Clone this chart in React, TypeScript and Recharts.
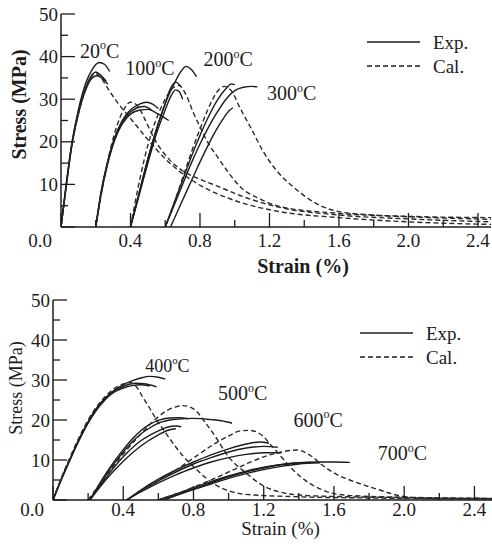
import { Legend, Line, LineChart, ReferenceDot, XAxis, YAxis } from 'recharts';

type Pt = [number, number];

const INK = '#1c1c1c';
const SERIF = '"Liberation Serif", "Times New Roman", serif';

// strain (%) ticks: labelled every 0.4, minor every 0.2
const strainMajor = [0, 0.4, 0.8, 1.2, 1.6, 2.0, 2.4];
const strainMinor = [0.2, 0.6, 1.0, 1.4, 1.8, 2.2];
// stress (MPa) ticks: labelled every 10, minor every 5
const stressMajor = [0, 10, 20, 30, 40, 50];
const stressMinor = [5, 15, 25, 35, 45];

// ---- upper panel: 20-300 °C ----
const exp20a: Pt[] = [[0, 0], [0.03, 10], [0.06, 19], [0.1, 27.5], [0.14, 33.5], [0.18, 37], [0.22, 38.6], [0.25, 38.2], [0.28, 36.5]];
const exp20b: Pt[] = [[0, 0], [0.03, 10], [0.06, 19], [0.1, 27], [0.14, 32.5], [0.18, 35.8], [0.2, 36.4], [0.23, 35.6], [0.26, 34.2]];
const exp20c: Pt[] = [[0, 0], [0.03, 9.5], [0.06, 18.5], [0.1, 26.5], [0.14, 32], [0.18, 35], [0.21, 35.5], [0.24, 34.8], [0.27, 33.5]];
const cal20: Pt[] = [[0, 0], [0.03, 9.5], [0.06, 18.5], [0.1, 26.5], [0.14, 32], [0.18, 35.5], [0.2, 36], [0.23, 35], [0.27, 32.5], [0.32, 29.5], [0.4, 25.5], [0.5, 20.5], [0.6, 16], [0.7, 12.5], [0.8, 9.8], [0.9, 7.8], [1.03, 5.8], [1.26, 3.6], [1.6, 2.2], [2.0, 1.2], [2.48, 0.6]];

const exp100a: Pt[] = [[0.2, 0], [0.23, 8], [0.27, 15.5], [0.31, 21], [0.35, 24.8], [0.4, 27.5], [0.45, 28.8], [0.49, 29.3], [0.53, 28.8], [0.56, 27.8]];
const exp100b: Pt[] = [[0.2, 0], [0.23, 7.5], [0.27, 15], [0.31, 20.5], [0.35, 24], [0.4, 26.5], [0.45, 27.4], [0.5, 27.6], [0.56, 26.5], [0.62, 25]];
const exp100c: Pt[] = [[0.2, 0], [0.23, 8], [0.27, 15.5], [0.31, 21], [0.35, 24.5], [0.4, 27], [0.44, 28], [0.48, 28.3], [0.52, 27.5]];
const cal100: Pt[] = [[0.2, 0], [0.24, 9.5], [0.28, 17.5], [0.32, 23.5], [0.36, 27.5], [0.4, 29.3], [0.44, 28.5], [0.48, 25.5], [0.54, 20.5], [0.62, 16], [0.7, 13.2], [0.8, 11.2], [0.9, 9.6], [1.03, 7.4], [1.26, 4.6], [1.6, 2.8], [2.0, 1.9], [2.48, 1.2]];

const exp200a: Pt[] = [[0.4, 0], [0.45, 8], [0.5, 16], [0.55, 23], [0.6, 29], [0.65, 33.5], [0.69, 36.5], [0.72, 37.7], [0.75, 37], [0.78, 35.3]];
const exp200b: Pt[] = [[0.4, 0], [0.45, 8], [0.5, 16], [0.55, 23], [0.6, 29], [0.63, 32.5], [0.66, 34], [0.69, 33]];
const exp200c: Pt[] = [[0.4, 0], [0.45, 7.5], [0.5, 15], [0.55, 22], [0.6, 27.5], [0.63, 30.5], [0.66, 32.2], [0.68, 31.8], [0.7, 30]];
const cal200: Pt[] = [[0.4, 0], [0.44, 8.5], [0.48, 16], [0.52, 22], [0.56, 26.5], [0.6, 30], [0.64, 32.5], [0.68, 33.2], [0.72, 31], [0.76, 27], [0.8, 23.5], [0.85, 19.5], [0.9, 16.5], [0.96, 13], [1.03, 9.5], [1.15, 6.5], [1.26, 4.8], [1.6, 3.2], [2.0, 2.4], [2.48, 1.8]];

const exp300a: Pt[] = [[0.6, 0], [0.65, 5.5], [0.7, 11], [0.75, 16.5], [0.8, 21.5], [0.85, 26], [0.9, 29.8], [0.95, 32.5], [0.98, 33.6], [1.0, 33.4]];
const exp300b: Pt[] = [[0.6, 0], [0.65, 5], [0.7, 10], [0.75, 15], [0.8, 19.5], [0.85, 23.5], [0.9, 27], [0.95, 30], [1.0, 32], [1.05, 32.8], [1.1, 33], [1.13, 32.9]];
const exp300c: Pt[] = [[0.63, 0], [0.68, 4.5], [0.73, 9], [0.78, 13.5], [0.83, 17.8], [0.88, 21.8], [0.93, 25.2], [0.97, 27.4], [0.99, 28]];
const cal300: Pt[] = [[0.6, 0], [0.65, 5.5], [0.7, 11.5], [0.75, 17.5], [0.8, 23], [0.85, 28], [0.9, 31.8], [0.94, 33], [0.98, 32], [1.03, 28], [1.1, 22.7], [1.16, 18], [1.24, 13.3], [1.34, 9.3], [1.47, 5.5], [1.6, 3.6], [1.8, 2.8], [2.0, 2.5], [2.48, 2.2]];

// ---- lower panel: 400-700 °C ----
const exp400a: Pt[] = [[0, 0], [0.05, 5.5], [0.1, 10.5], [0.15, 15.3], [0.2, 19.5], [0.25, 23], [0.3, 25.6], [0.35, 27.5], [0.4, 28.8], [0.45, 29.8], [0.5, 30.5], [0.55, 30.9], [0.6, 30.7], [0.64, 30.2]];
const exp400b: Pt[] = [[0, 0], [0.05, 5.5], [0.1, 10.5], [0.15, 15.3], [0.2, 19.5], [0.25, 23], [0.3, 25.5], [0.35, 27.3], [0.4, 28.4], [0.47, 29.2], [0.53, 29], [0.59, 28.3]];
const exp400c: Pt[] = [[0, 0], [0.05, 5.3], [0.1, 10.3], [0.15, 15], [0.2, 19.2], [0.25, 22.6], [0.3, 25.2], [0.35, 27], [0.4, 28], [0.45, 28.6], [0.5, 28.8], [0.55, 28.5]];
const cal400: Pt[] = [[0, 0], [0.05, 5.8], [0.1, 11], [0.15, 15.8], [0.2, 20], [0.25, 23.4], [0.3, 26], [0.35, 27.9], [0.4, 29], [0.44, 29.3], [0.48, 28], [0.51, 25.8], [0.55, 23], [0.59, 20], [0.63, 17.5], [0.67, 15], [0.74, 11], [0.82, 7.5], [0.91, 4.2], [1.0, 2.3], [1.1, 1.4], [1.4, 0.8], [1.8, 0.5], [2.5, 0.3]];

const exp500a: Pt[] = [[0.21, 0], [0.25, 2.8], [0.3, 6.2], [0.35, 9.2], [0.4, 12], [0.45, 14.5], [0.5, 16.5], [0.55, 18], [0.6, 19.2], [0.7, 20.2], [0.8, 20.4], [0.9, 20.1], [0.96, 19.8], [1.02, 19.2]];
const exp500b: Pt[] = [[0.21, 0], [0.25, 3], [0.3, 6.5], [0.35, 9.7], [0.4, 12.6], [0.45, 15.2], [0.5, 17.3], [0.55, 18.9], [0.6, 19.9], [0.66, 20.5], [0.72, 20.6], [0.77, 20.3]];
const exp500c: Pt[] = [[0.21, 0], [0.3, 5.5], [0.4, 10.8], [0.5, 14.8], [0.6, 17.3], [0.65, 18.2], [0.7, 18.5], [0.73, 18.3]];
const exp500d: Pt[] = [[0.21, 0], [0.3, 5], [0.4, 9.7], [0.5, 13.5], [0.6, 16.3], [0.66, 17.5], [0.7, 17.8]];
const cal500: Pt[] = [[0.2, 0], [0.3, 6], [0.4, 11.5], [0.5, 16.5], [0.55, 18.8], [0.6, 20.8], [0.65, 22.4], [0.7, 23.3], [0.74, 23.6], [0.8, 22.8], [0.87, 19.2], [0.93, 15.5], [1.0, 10.8], [1.1, 6.7], [1.2, 3.5], [1.3, 1.9], [1.45, 1.1], [1.7, 0.8], [2.0, 0.6], [2.5, 0.4]];

const exp600a: Pt[] = [[0.42, 0], [0.5, 2.5], [0.6, 5.2], [0.7, 7.5], [0.8, 9.5], [0.9, 11.3], [1.0, 12.8], [1.1, 14], [1.18, 14.5], [1.23, 14.2]];
const exp600b: Pt[] = [[0.42, 0], [0.5, 2.3], [0.6, 4.8], [0.7, 7], [0.8, 9], [0.9, 10.6], [1.0, 12], [1.1, 13], [1.2, 13.4], [1.28, 13.2]];
const exp600c: Pt[] = [[0.42, 0], [0.5, 2], [0.6, 4.3], [0.7, 6.3], [0.8, 8], [0.9, 9.5], [1.0, 10.6], [1.1, 11.4], [1.2, 11.8], [1.3, 11.8]];
const cal600: Pt[] = [[0.42, 0], [0.5, 2.2], [0.6, 4.8], [0.7, 7.5], [0.8, 10.5], [0.9, 13.5], [1.0, 16], [1.07, 17.3], [1.12, 17.4], [1.18, 16.5], [1.25, 13.3], [1.3, 10.8], [1.35, 8.3], [1.4, 6.2], [1.46, 4.2], [1.52, 2.8], [1.58, 1.8], [1.7, 1.1], [2.0, 0.7], [2.5, 0.4]];

const exp700a: Pt[] = [[0.63, 0], [0.7, 1.2], [0.8, 2.8], [0.9, 4.3], [1.0, 5.8], [1.1, 7], [1.2, 8], [1.3, 8.8], [1.4, 9.3], [1.5, 9.5], [1.6, 9.5], [1.69, 9.4]];
const exp700b: Pt[] = [[0.63, 0], [0.8, 2.6], [0.9, 4], [1.0, 5.4], [1.1, 6.6], [1.2, 7.6], [1.3, 8.4], [1.4, 9], [1.52, 9.3]];
const exp700c: Pt[] = [[0.6, 0], [0.7, 1.5], [0.8, 3.1], [0.9, 4.6], [1.0, 6], [1.1, 7.2], [1.2, 8.2], [1.3, 8.9], [1.4, 9.3], [1.47, 9.4]];
const cal700: Pt[] = [[0.6, 0], [0.7, 1.5], [0.8, 3.2], [0.9, 5], [1.0, 7], [1.1, 9], [1.2, 10.8], [1.3, 12], [1.39, 12.5], [1.46, 11.3], [1.54, 8.5], [1.62, 6.3], [1.69, 5], [1.78, 3.6], [1.86, 2.5], [1.95, 1.3], [2.05, 0.6], [2.2, 0.3], [2.5, 0.2]];

// temperature annotations: [label, strain, stress, font size]
const upperTemps: [string, number, number, number][] = [
  ['20', 0.11, 39.7, 20],
  ['100', 0.37, 35.7, 20],
  ['200', 0.82, 37.8, 20],
  ['300', 1.185, 29.8, 20],
];
const lowerTemps: [string, number, number, number][] = [
  ['400', 0.525, 32, 18],
  ['500', 0.94, 25, 20],
  ['600', 1.37, 18.3, 20],
  ['700', 1.85, 10, 20],
];

type Series = { id: string; pts: Pt[]; cal: boolean };

const upperSeries: Series[] = [
  { id: 'e20a', pts: exp20a, cal: false },
  { id: 'e20b', pts: exp20b, cal: false },
  { id: 'e20c', pts: exp20c, cal: false },
  { id: 'c20', pts: cal20, cal: true },
  { id: 'e100a', pts: exp100a, cal: false },
  { id: 'e100b', pts: exp100b, cal: false },
  { id: 'e100c', pts: exp100c, cal: false },
  { id: 'c100', pts: cal100, cal: true },
  { id: 'e200a', pts: exp200a, cal: false },
  { id: 'e200b', pts: exp200b, cal: false },
  { id: 'e200c', pts: exp200c, cal: false },
  { id: 'c200', pts: cal200, cal: true },
  { id: 'e300a', pts: exp300a, cal: false },
  { id: 'e300b', pts: exp300b, cal: false },
  { id: 'e300c', pts: exp300c, cal: false },
  { id: 'c300', pts: cal300, cal: true },
];

const lowerSeries: Series[] = [
  { id: 'e400a', pts: exp400a, cal: false },
  { id: 'e400b', pts: exp400b, cal: false },
  { id: 'e400c', pts: exp400c, cal: false },
  { id: 'c400', pts: cal400, cal: true },
  { id: 'e500a', pts: exp500a, cal: false },
  { id: 'e500b', pts: exp500b, cal: false },
  { id: 'e500c', pts: exp500c, cal: false },
  { id: 'e500d', pts: exp500d, cal: false },
  { id: 'c500', pts: cal500, cal: true },
  { id: 'e600a', pts: exp600a, cal: false },
  { id: 'e600b', pts: exp600b, cal: false },
  { id: 'e600c', pts: exp600c, cal: false },
  { id: 'c600', pts: cal600, cal: true },
  { id: 'e700a', pts: exp700a, cal: false },
  { id: 'e700b', pts: exp700b, cal: false },
  { id: 'e700c', pts: exp700c, cal: false },
  { id: 'c700', pts: cal700, cal: true },
];

const strainTicks = [...strainMajor, ...strainMinor].sort((a, b) => a - b);
const stressTicks = [...stressMajor, ...stressMinor].sort((a, b) => a - b);
const isMajorStrain = (v: number) => strainMajor.some((m) => Math.abs(m - v) < 1e-6);
const isMajorStress = (v: number) => stressMajor.includes(v);

type PanelProps = {
  top: number;
  height: number;
  plotTop: number;
  plotLeft: number;
  plotRight: number;
  xAxisHeight: number;
  xMax: number;
  series: Series[];
  temps: [string, number, number, number][];
  bold: boolean;
  legendAt: { left: number; top: number };
  tickDy: number;
  xLabel: { dx: number; dy: number; size: number };
  yLabel: { dx: number; dy: number; size: number };
};

function TempText({ cx, cy, label, size }: { cx: number; cy: number; label: string; size: number }) {
  return (
    <text x={cx} y={cy} fontFamily={SERIF} fontSize={size} fill={INK}>
      {label}
      <tspan fontSize={size * 0.6} dy={-size * 0.42}>o</tspan>
      <tspan dy={size * 0.42}>C</tspan>
    </text>
  );
}

function Panel(p: PanelProps) {
  const tickFont = { fontFamily: SERIF, fontSize: 19, fill: INK };
  const major = 14;
  const minor = 7;

  const bottomTick = ({ x, y, payload }: any) => {
    const v = payload.value as number;
    const big = isMajorStrain(v);
    return (
      <g>
        <line x1={x} x2={x} y1={y} y2={y - (big ? major : minor)} stroke={INK} strokeWidth={1.3} />
        {big && (
          <text x={v === 0 ? x - 21 : x} y={y + p.tickDy} textAnchor="middle" dominantBaseline="central" {...tickFont}>
            {v.toFixed(1)}
          </text>
        )}
      </g>
    );
  };
  const topTick = ({ x, y, payload }: any) => {
    const big = isMajorStrain(payload.value);
    return <line x1={x} x2={x} y1={y} y2={y + (big ? major : minor)} stroke={INK} strokeWidth={1.3} />;
  };
  const leftTick = ({ x, y, payload }: any) => {
    const v = payload.value as number;
    const big = isMajorStress(v);
    return (
      <g>
        <line x1={x} x2={x + (big ? major : minor)} y1={y} y2={y} stroke={INK} strokeWidth={1.3} />
        {big && v > 0 && (
          <text x={x - 3} y={y} textAnchor="end" dominantBaseline="central" {...tickFont}>
            {v}
          </text>
        )}
      </g>
    );
  };
  const rightTick = ({ x, y, payload }: any) => {
    const big = isMajorStress(payload.value);
    return <line x1={x} x2={x - (big ? 12 : 6)} y1={y} y2={y} stroke={INK} strokeWidth={1.3} />;
  };

  const weight = p.bold ? 'bold' : 'normal';

  return (
    <div style={{ position: 'absolute', left: 0, top: p.top }}>
      <LineChart
        width={492}
        height={p.height}
        margin={{ top: p.plotTop, right: 492 - p.plotRight, bottom: 0, left: 0 }}
      >
        <XAxis
          dataKey="x"
          type="number"
          domain={[0, p.xMax]}
          ticks={strainTicks}
          interval={0}
          allowDataOverflow
          height={p.xAxisHeight}
          tickSize={0}
          tickMargin={0}
          tick={bottomTick}
          axisLine={{ stroke: INK, strokeWidth: 1.5 }}
          label={{
            content: ({ viewBox }: any) => (
              <text
                x={viewBox.x + viewBox.width / 2 + p.xLabel.dx}
                y={viewBox.y + p.xLabel.dy}
                textAnchor="middle"
                dominantBaseline="central"
                fontFamily={SERIF}
                fontSize={p.xLabel.size}
                fontWeight={weight}
                fill={INK}
              >
                Strain (%)
              </text>
            ),
          }}
        />
        <XAxis
          xAxisId="top"
          orientation="top"
          type="number"
          domain={[0, p.xMax]}
          ticks={strainTicks}
          interval={0}
          allowDataOverflow
          height={0}
          tickSize={0}
          tickMargin={0}
          tick={topTick}
          axisLine={{ stroke: INK, strokeWidth: 1.5 }}
        />
        <YAxis
          type="number"
          domain={[0, 50]}
          ticks={stressTicks}
          interval={0}
          allowDataOverflow
          width={p.plotLeft}
          tickSize={0}
          tickMargin={0}
          tick={leftTick}
          axisLine={{ stroke: INK, strokeWidth: 1.5 }}
          label={{
            content: ({ viewBox }: any) => {
              const cx = viewBox.x + viewBox.width + p.yLabel.dx;
              const cy = viewBox.y + viewBox.height / 2 + p.yLabel.dy;
              return (
                <text
                  x={cx}
                  y={cy}
                  transform={`rotate(-90 ${cx} ${cy})`}
                  textAnchor="middle"
                  dominantBaseline="central"
                  fontFamily={SERIF}
                  fontSize={p.yLabel.size}
                  fontWeight={weight}
                  fill={INK}
                >
                  Stress (MPa)
                </text>
              );
            },
          }}
        />
        <YAxis
          yAxisId="right"
          orientation="right"
          type="number"
          domain={[0, 50]}
          ticks={stressTicks}
          interval={0}
          width={0}
          tickSize={0}
          tickMargin={0}
          tick={rightTick}
          axisLine={{ stroke: INK, strokeWidth: 1.5 }}
        />
        <Legend
          layout="vertical"
          align="center"
          verticalAlign="middle"
          wrapperStyle={{ left: p.legendAt.left, top: p.legendAt.top, width: 120, height: 46 }}
          content={() => (
            <svg width={120} height={46}>
              <line x1={5} x2={58} y1={9} y2={9} stroke={INK} strokeWidth={1.4} />
              <text x={71} y={9} dominantBaseline="central" fontFamily={SERIF} fontSize={19} fill={INK}>
                Exp.
              </text>
              <line x1={5} x2={58} y1={33} y2={33} stroke={INK} strokeWidth={1.4} strokeDasharray="5 3" />
              <text x={71} y={33} dominantBaseline="central" fontFamily={SERIF} fontSize={19} fill={INK}>
                Cal.
              </text>
            </svg>
          )}
        />
        {p.series.map((s) => (
          <Line
            key={s.id}
            data={s.pts.map(([x, y]) => ({ x, y }))}
            dataKey="y"
            type="monotone"
            dot={false}
            stroke={s.cal ? '#2a2a2a' : INK}
            strokeWidth={1.4}
            strokeDasharray={s.cal ? '5 3' : undefined}
            isAnimationActive={false}
            legendType="none"
          />
        ))}
        {p.temps.map(([label, x, y, size]) => (
          <ReferenceDot
            key={label}
            x={x}
            y={y}
            r={0}
            ifOverflow="visible"
            shape={(d: any) => <TempText cx={d.cx} cy={d.cy} label={label} size={size} />}
          />
        ))}
      </LineChart>
    </div>
  );
}

export default function App() {
  return (
    <div style={{ position: 'fixed', left: 0, top: 0, width: 492, height: 547, background: '#fff' }}>
      <Panel
        top={0}
        height={280}
        plotTop={14}
        plotLeft={61}
        plotRight={491}
        xAxisHeight={53}
        xMax={2.475}
        series={upperSeries}
        temps={upperTemps}
        bold
        legendAt={{ left: 362, top: 33 }}
        tickDy={13}
        xLabel={{ dx: 27, dy: 39, size: 20 }}
        yLabel={{ dx: -42, dy: -16, size: 20 }}
      />
      <Panel
        top={280}
        height={267}
        plotTop={20}
        plotLeft={53}
        plotRight={492}
        xAxisHeight={47}
        xMax={2.5}
        series={lowerSeries}
        temps={lowerTemps}
        bold={false}
        legendAt={{ left: 355, top: 44 }}
        tickDy={9}
        xLabel={{ dx: 8, dy: 28, size: 19 }}
        yLabel={{ dx: -37, dy: -12, size: 18 }}
      />
    </div>
  );
}
